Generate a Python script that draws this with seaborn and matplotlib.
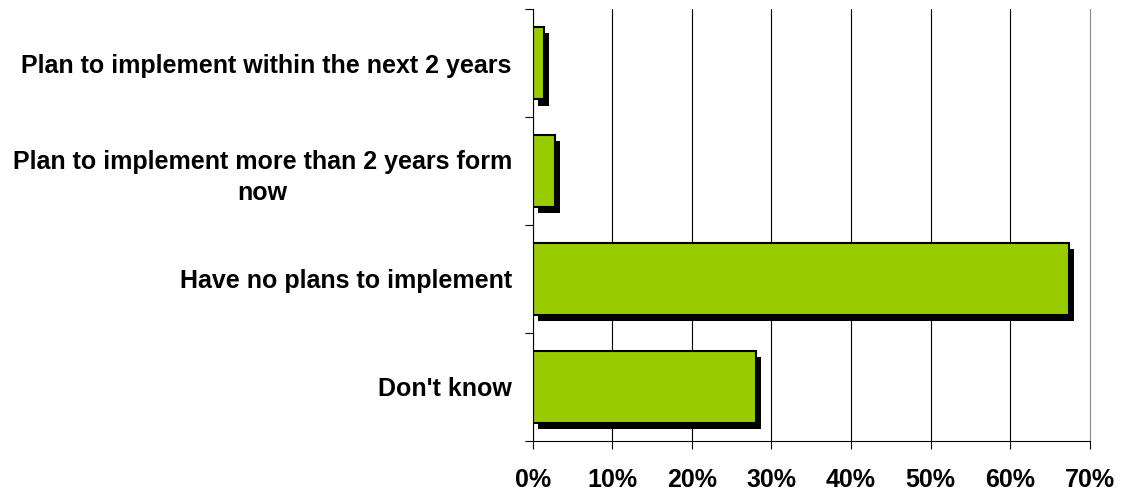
#!/usr/bin/env python3

import matplotlib
matplotlib.use("Agg")
import matplotlib.pyplot as plt
import matplotlib.patheffects as pe
import seaborn as sns
import numpy as np

categories = [
    "Plan to implement within the next 2 years",
    "Plan to implement more than 2 years form\nnow",
    "Have no plans to implement",
    "Don't know",
]
values = [1.4, 2.8, 67.4, 28.0]
x_ticks = [0, 10, 20, 30, 40, 50, 60, 70]

sns.set_theme(style="white")
plt.rcParams["font.family"] = ["Liberation Sans", "DejaVu Sans"]
plt.rcParams["font.weight"] = "bold"
plt.rcParams["text.color"] = "black"
plt.rcParams["xtick.color"] = "black"
plt.rcParams["ytick.color"] = "black"

fig = plt.figure(figsize=(11.21, 4.93), dpi=100)
ax = fig.add_axes([0.4752, 0.1061, 0.4969, 0.8750])

sns.barplot(
    x=values, y=categories, orient="h", ax=ax,
    color="#99CC00", saturation=1, width=0.67,
    edgecolor="black", linewidth=1.5,
)

# Drop shadow like the old Excel charts
for bar in ax.patches:
    bar.set_path_effects([
        pe.SimplePatchShadow(offset=(3.8, -4.5), shadow_rgbFace="black", alpha=1),
        pe.Normal(),
    ])

ax.set_xlim(0, 70)
ax.set_xticks(x_ticks)
ax.set_xticklabels([f"{t}%" for t in x_ticks], fontsize=18, fontweight="bold", color="black")
ax.set_ylim(len(categories) - 0.5, -0.5)

# Category labels sit between ticks at the band edges
ax.set_yticks(np.arange(len(categories)))
ax.set_yticklabels(categories, fontsize=18, fontweight="bold", color="black")
for lbl in ax.get_yticklabels():
    lbl.set_multialignment("center")
    lbl.set_linespacing(1.4)
ax.set_yticks(np.arange(len(categories) + 1) - 0.5, minor=True)
ax.tick_params(axis="y", which="major", length=0, pad=15)
ax.tick_params(axis="y", which="minor", length=6, width=0.8, color="black", direction="out", left=True)
ax.tick_params(axis="x", which="major", length=6, width=0.8, color="black", direction="out", bottom=True, pad=14)

ax.set_xlabel("")
ax.set_ylabel("")

ax.grid(axis="x", color="black", linewidth=0.8)
ax.grid(axis="y", visible=False)
ax.set_axisbelow(True)
ax.xaxis.get_gridlines()[-1].set_visible(False)

ax.spines["top"].set_visible(False)
ax.spines["left"].set_color("black")
ax.spines["bottom"].set_color("black")
ax.spines["right"].set_color("#888888")
for s in ["left", "bottom", "right"]:
    ax.spines[s].set_linewidth(0.8)

plt.savefig("out.png", dpi=100)
plt.close()
